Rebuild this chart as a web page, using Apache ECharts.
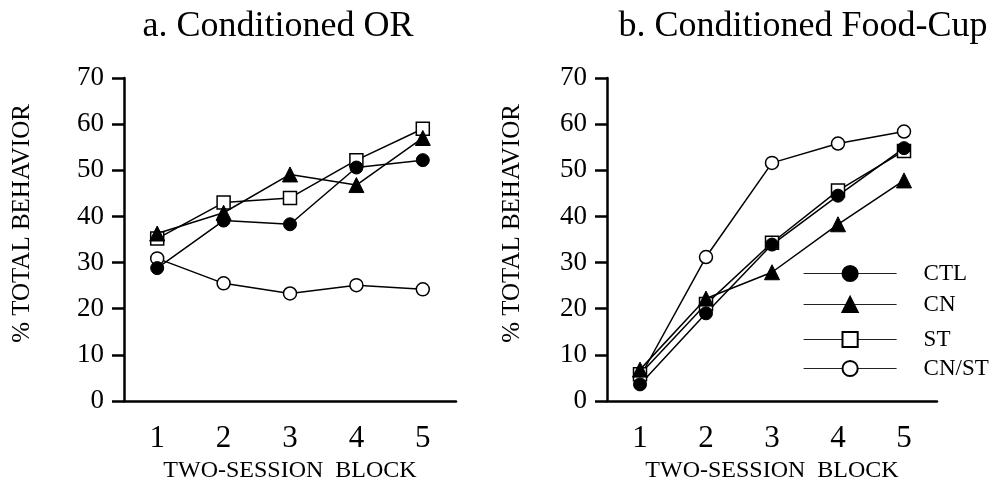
<!DOCTYPE html>
<html>
<head>
<meta charset="utf-8">
<script src="https://cdn.jsdelivr.net/npm/echarts@6/dist/echarts.min.js"></script>
<style>
  html, body { margin: 0; padding: 0; background: #fff; }
  #chart { width: 1007px; height: 488px; }
</style>
</head>
<body>
<div id="chart"></div>
<script>
  // data
  const blocks = ['1', '2', '3', '4', '5']
  const yTicks = [0, 10, 20, 30, 40, 50, 60, 70]
  const groups = ['CTL', 'CN', 'ST', 'CN/ST']
  const titles = ['a. Conditioned OR', 'b. Conditioned Food-Cup']

  // a. Conditioned OR
  const orCTL = [28.8, 39.1, 38.3, 50.6, 52.2]
  const orCN = [36.3, 40.8, 49.1, 46.8, 57.0]
  const orST = [35.2, 43.0, 44.0, 52.2, 59.0]
  const orCNST = [30.9, 25.5, 23.3, 25.1, 24.2]

  // b. Conditioned Food-Cup
  const fcCTL = [3.6, 19.0, 33.9, 44.5, 54.8]
  const fcCN = [6.8, 22.2, 27.9, 38.3, 47.8]
  const fcST = [5.8, 21.0, 34.3, 45.6, 54.2]
  const fcCNST = [5.2, 31.2, 51.6, 55.8, 58.4]

  const font = 'Liberation Serif'
  const ink = '#000'

  const marks = {
    'CTL': { symbol: 'circle', itemStyle: { color: ink, borderColor: ink, borderWidth: 1 } },
    'CN': { symbol: 'triangle', itemStyle: { color: ink, borderColor: ink, borderWidth: 1 } },
    'ST': { symbol: 'rect', itemStyle: { color: '#fff', borderColor: ink, borderWidth: 1.5 } },
    'CN/ST': { symbol: 'circle', itemStyle: { color: '#fff', borderColor: ink, borderWidth: 1.5 } }
  }

  function xAxisFor(idx) {
    return {
      type: 'category',
      gridIndex: idx,
      data: blocks,
      boundaryGap: true,
      name: 'TWO-SESSION  BLOCK',
      nameLocation: 'middle',
      nameGap: 58,
      nameTextStyle: { fontFamily: font, fontSize: 24, color: ink },
      axisLine: { lineStyle: { color: ink, width: 2.5 } },
      axisTick: { alignWithLabel: true, length: 13, lineStyle: { color: ink, width: 2.5 } },
      axisLabel: { fontFamily: font, fontSize: 31, color: ink, margin: 22 },
      splitLine: { show: false }
    }
  }

  function yAxisFor(idx, gap) {
    return {
      type: 'value',
      gridIndex: idx,
      min: yTicks[0],
      max: yTicks[yTicks.length - 1],
      interval: 10,
      name: '% TOTAL BEHAVIOR',
      nameLocation: 'middle',
      nameGap: gap,
      nameTextStyle: { fontFamily: font, fontSize: 25, color: ink, padding: [0, 0, 0, 32] },
      axisLine: { show: true, lineStyle: { color: ink, width: 2.5 } },
      axisTick: { show: true, length: 12, lineStyle: { color: ink, width: 2.5 } },
      axisLabel: { fontFamily: font, fontSize: 27, color: ink, margin: 20 },
      splitLine: { show: false }
    }
  }

  function lineSeries(name, idx, values) {
    return {
      name: name,
      type: 'line',
      xAxisIndex: idx,
      yAxisIndex: idx,
      data: values,
      symbol: marks[name].symbol,
      symbolSize: name === 'CN' ? 15 : 13,
      itemStyle: marks[name].itemStyle,
      lineStyle: { color: ink, width: 1.5 },
      animation: false
    }
  }

  const legendTops = [262, 293, 328, 357]
  const legends = groups.map((g, i) => ({
    left: 803,
    top: legendTops[i],
    padding: 0,
    itemWidth: 93,
    itemHeight: 19,
    itemGap: 0,
    data: [g],
    lineStyle: { color: '#222', width: 1.2 },
    textStyle: { fontFamily: font, fontSize: 23, color: ink, padding: [0, 0, 0, 22] }
  }))

  const chart = echarts.init(document.getElementById('chart'))
  const option = {
    backgroundColor: '#fff',
    animation: false,
    title: [
      { text: titles[0], left: 278, top: 9, padding: 0, textAlign: 'center',
        textStyle: { fontFamily: font, fontSize: 36, fontWeight: 'normal', color: ink } },
      { text: titles[1], left: 803, top: 9, padding: 0, textAlign: 'center',
        textStyle: { fontFamily: font, fontSize: 36, fontWeight: 'normal', color: ink } }
    ],
    legend: legends,
    grid: [
      { left: 124, top: 78, width: 332, height: 329, containLabel: false },
      { left: 607, top: 78, width: 330, height: 329, containLabel: false }
    ],
    xAxis: [xAxisFor(0), xAxisFor(1)],
    yAxis: [yAxisFor(0, 89), yAxisFor(1, 82)],
    series: [
      lineSeries('CN/ST', 0, orCNST),
      lineSeries('ST', 0, orST),
      lineSeries('CN', 0, orCN),
      lineSeries('CTL', 0, orCTL),
      lineSeries('CN/ST', 1, fcCNST),
      lineSeries('ST', 1, fcST),
      lineSeries('CN', 1, fcCN),
      lineSeries('CTL', 1, fcCTL)
    ]
  }
  chart.setOption(option)
  window.addEventListener('resize', function () {
    chart.resize()
  })
</script>
</body>
</html>
